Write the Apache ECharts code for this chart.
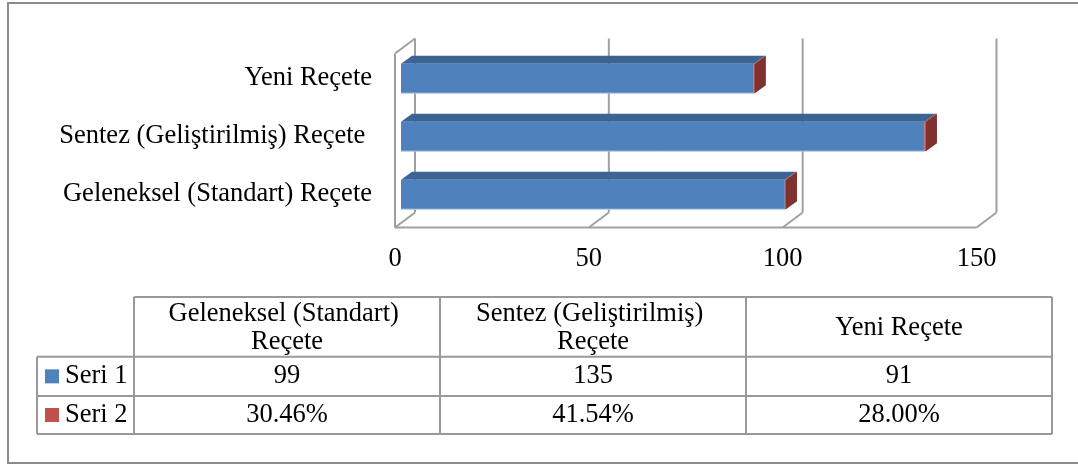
<!DOCTYPE html>
<html>
<head>
<meta charset="utf-8">
<script src="https://cdn.jsdelivr.net/npm/echarts@6/dist/echarts.min.js"></script>
<style>
html,body{margin:0;padding:0;background:#fff;}
#chart{width:1078px;height:465px;}
</style>
</head>
<body>
<div id="chart"></div>
<script>
// ---- data ----
const categories = ['Geleneksel (Standart) Reçete', 'Sentez (Geliştirilmiş) Reçete ', 'Yeni Reçete'];
const seri1 = [99, 135, 91];
const seri2Percent = [30.46, 41.54, 28.00];
const seriesNames = ['Seri 1', 'Seri 2'];
const xTicks = [0, 50, 100, 150];

// ---- style ----
const FONT = 'Liberation Serif';
const FS = 26.5;
const FRAME = '#a0a0a0';
const BLUE = '#4f81bd', BLUE_TOP = '#3b6494';
const RED = '#c0504d', RED_SIDE = '#7f3130', RED_TOP = '#8c3836';
const FRONT_OFF = [-6, 4];   // front wall plane relative to bar plane
const WALL = [20, -15];      // wall depth
const BAR_DEPTH = [11, -8];

const chart = echarts.init(document.getElementById('chart'), null, {renderer: 'canvas'});

const barData = categories.map((c, i) => [seri1[i], seri2Percent[i] / 100, i]);

function frameRender(params, api) {
  const cs = params.coordSys;
  const yb = cs.y + cs.height + FRONT_OFF[1];
  const yt = cs.y + FRONT_OFF[1];
  const line = (x1, y1, x2, y2) => ({
    type: 'line', shape: {x1, y1, x2, y2},
    style: {stroke: FRAME, lineWidth: 2}
  });
  const ch = [];
  const xf = v => api.coord([v, 0])[0] + FRONT_OFF[0];
  const x0 = xf(xTicks[0]), xN = xf(xTicks[xTicks.length - 1]);
  ch.push(line(x0, yb, x0, yt));
  ch.push(line(x0, yt, x0 + WALL[0], yt + WALL[1]));
  ch.push(line(x0, yb, xN, yb));
  xTicks.forEach(v => {
    const x = xf(v);
    ch.push(line(x, yb, x + WALL[0], yb + WALL[1]));
    ch.push(line(x + WALL[0], yb + WALL[1], x + WALL[0], yt + WALL[1]));
    ch.push({
      type: 'text', x: x, y: yb + 31.5,
      style: {text: String(v), fontFamily: FONT, fontSize: FS, fill: '#000',
              align: 'center', verticalAlign: 'middle'}
    });
  });
  return {type: 'group', children: ch};
}

function barRender(params, api) {
  const v1 = api.value(0), v2 = api.value(1), cat = api.value(2);
  const p0 = api.coord([0, cat]);
  const p1 = api.coord([v1, cat]);
  const p2 = api.coord([v1 + v2, cat]);
  const h = api.size([0, 1])[1] * 0.507;
  const yT = p0[1] - h / 2, yB = p0[1] + h / 2;
  const dx = BAR_DEPTH[0], dy = BAR_DEPTH[1];
  const poly = (pts, fill) => ({type: 'polygon', shape: {points: pts}, style: {fill: fill}});
  return {
    type: 'group',
    children: [
      poly([[p0[0], yT], [p1[0], yT], [p1[0] + dx, yT + dy], [p0[0] + dx, yT + dy]], BLUE_TOP),
      poly([[p1[0], yT], [p2[0], yT], [p2[0] + dx, yT + dy], [p1[0] + dx, yT + dy]], RED_TOP),
      {type: 'rect', shape: {x: p0[0], y: yT, width: p1[0] - p0[0], height: h}, style: {fill: BLUE}},
      {type: 'line', shape: {x1: p0[0], y1: yB, x2: p1[0], y2: yB}, style: {stroke: '#b9cde5', lineWidth: 1}},
      {type: 'rect', shape: {x: p1[0], y: yT, width: Math.max(p2[0] - p1[0], 1.5), height: h}, style: {fill: RED}},
      poly([[p2[0], yT], [p2[0] + dx, yT + dy], [p2[0] + dx, yB + dy], [p2[0], yB]], RED_SIDE)
    ]
  };
}

// ---- data table (graphic) ----
const tblX = [37, 134, 440, 746, 1052];
const tblY = [297, 356.7, 396, 434];
const tblLine = (x1, y1, x2, y2) => ({
  type: 'line', shape: {x1, y1, x2, y2}, style: {stroke: '#999', lineWidth: 2}, silent: true
});
const graphics = [];
graphics.push({type: 'rect', shape: {x: 8, y: 3, width: 1100, height: 460},
  style: {fill: 'none', stroke: '#8c8c8c', lineWidth: 2}, silent: true});
graphics.push(tblLine(tblX[1], tblY[0], tblX[4], tblY[0]));
for (let r = 1; r < tblY.length; r++) graphics.push(tblLine(tblX[0], tblY[r], tblX[4], tblY[r]));
graphics.push(tblLine(tblX[0], tblY[1], tblX[0], tblY[3]));
for (let c = 1; c < tblX.length; c++) graphics.push(tblLine(tblX[c], tblY[0], tblX[c], tblY[3]));
const txt = (x, y, text, align, w) => ({
  type: 'text', x: x, y: y, silent: true,
  style: {text: text, fontFamily: FONT, fontSize: FS, fill: '#000', align: align || 'center',
          verticalAlign: 'middle', lineHeight: 28.3, width: w, overflow: w ? 'break' : undefined}
});
categories.forEach((c, i) => {
  const cx = (tblX[i + 1] + tblX[i + 2]) / 2;
  graphics.push(txt(cx, 328, c.trim(), 'center', 285));
  graphics.push(txt(cx, (tblY[1] + tblY[2]) / 2, String(seri1[i])));
  graphics.push(txt(cx, (tblY[2] + tblY[3]) / 2, seri2Percent[i].toFixed(2) + '%'));
});
[BLUE, RED].forEach((col, k) => {
  const cy = (tblY[k + 1] + tblY[k + 2]) / 2;
  graphics.push({type: 'rect', shape: {x: 45, y: cy - 7, width: 14, height: 14}, style: {fill: col}, silent: true});
  graphics.push(txt(65, cy, seriesNames[k], 'left'));
});

const option = {
  animation: false,
  backgroundColor: '#fff',
  grid: {left: 401, right: 95.5, top: 49.5, bottom: 241.5, containLabel: false},
  xAxis: {
    type: 'value', min: 0, max: 150, interval: 50,
    axisLine: {show: false}, axisTick: {show: false}, axisLabel: {show: false}, splitLine: {show: false}
  },
  yAxis: {
    type: 'category', data: categories,
    axisLine: {show: false}, axisTick: {show: false}, splitLine: {show: false},
    axisLabel: {fontFamily: FONT, fontSize: FS, color: '#000', margin: 29, padding: [10, 0, 0, 0]}
  },
  graphic: graphics,
  series: [
    {type: 'custom', name: 'frame', renderItem: frameRender, data: [[0, 0]], clip: false, z: 1, silent: true},
    {type: 'custom', name: 'bars', renderItem: barRender, data: barData,
     encode: {x: [0, 1], y: 2}, clip: false, z: 2}
  ]
};
chart.setOption(option);
</script>
</body>
</html>
